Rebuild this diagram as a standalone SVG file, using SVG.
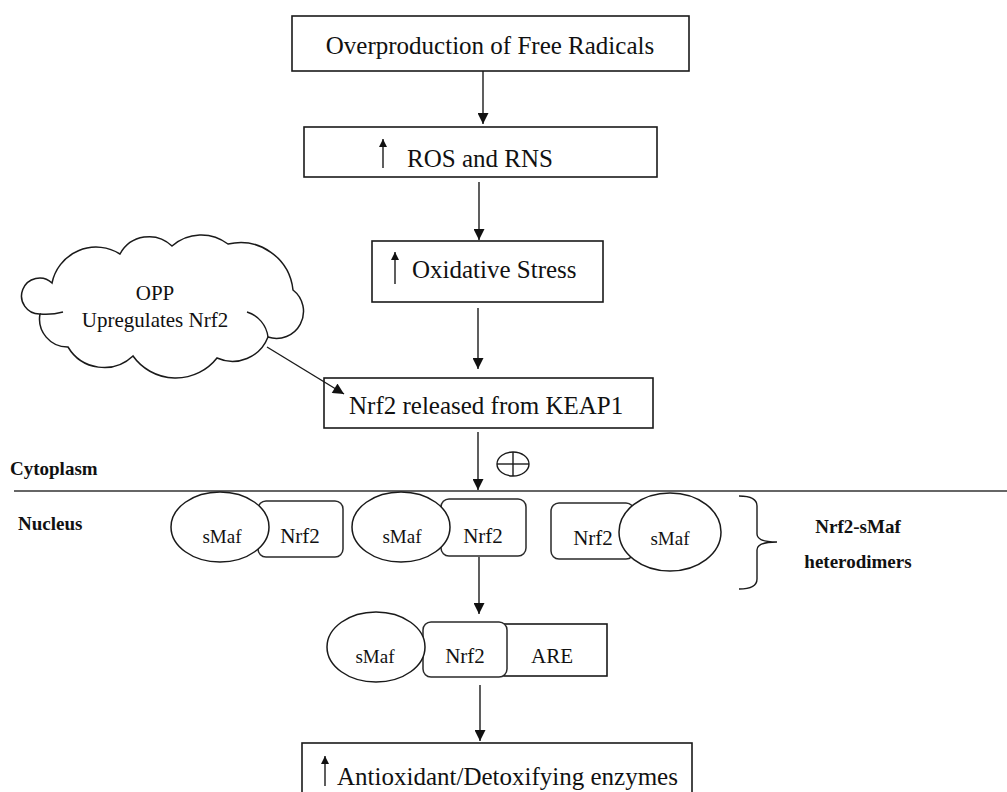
<svg xmlns="http://www.w3.org/2000/svg" width="1007" height="792" viewBox="0 0 1007 792">
<style>
  .box{fill:#fff;stroke:#1a1a1a;stroke-width:1.6}
  .rbox{fill:#fff;stroke:#2a2a2a;stroke-width:1.5}
  .ell{fill:#fff;stroke:#1a1a1a;stroke-width:1.5}
  .t{font-family:"Liberation Serif","Times New Roman",serif;fill:#111}
  .big{font-size:25px}
  .mid{font-size:21px}
  .sm{font-size:19px}
  .lab{font-size:19px;font-weight:bold}
  .conn{stroke:#1a1a1a;stroke-width:1.4;fill:none}
</style>
<defs>
  <marker id="ah" viewBox="0 0 12 12" refX="12" refY="6" markerWidth="12" markerHeight="11" markerUnits="userSpaceOnUse" orient="auto">
    <path d="M0,0 L12,6 L0,12 z" fill="#111"/>
  </marker>
  <marker id="up" viewBox="0 0 10 10" refX="10" refY="5" markerWidth="10" markerHeight="8" markerUnits="userSpaceOnUse" orient="auto">
    <path d="M0,0 L10,5 L0,10 z" fill="#111"/>
  </marker>
</defs>
<rect width="1007" height="792" fill="#fff"/>

<g id="overproduction">
  <rect class="box" x="292" y="16" width="397" height="55"/>
  <text class="t big" x="490" y="54" text-anchor="middle">Overproduction of Free Radicals</text>
</g>

<g id="ros-rns">
  <rect class="box" x="304" y="127" width="353" height="50"/>
  <line class="conn" x1="383" y1="168" x2="383" y2="139" marker-end="url(#up)"/>
  <text class="t big" x="407" y="167">ROS and RNS</text>
</g>

<g id="oxidative-stress">
  <rect class="box" x="372" y="241" width="231" height="61"/>
  <line class="conn" x1="395" y1="284" x2="395" y2="252" marker-end="url(#up)"/>
  <text class="t big" x="412" y="278">Oxidative Stress</text>
</g>

<g id="opp-cloud">
  <path class="ell" d="M40,314 A18,18 0 1 1 52,283 A45,45 0 0 1 120,254 A33,33 0 0 1 172,246 A44,44 0 0 1 228,244 A53,53 0 0 1 293,290 A27,27 0 0 1 268,337 A38,38 0 0 1 217,358 A52.5,52.5 0 0 1 133,356 A42,42 0 0 1 68,347 A28,28 0 0 1 40,314 Z"/>
  <path class="conn" d="M247,312 A30,30 0 0 1 268,337"/>
  <path class="conn" d="M40,314 Q52,315 63,312"/>
  <text class="t mid" x="155" y="300" text-anchor="middle">OPP</text>
  <text class="t mid" x="155" y="327" text-anchor="middle">Upregulates Nrf2</text>
</g>

<g id="nrf2-released">
  <rect class="box" x="324" y="378" width="329" height="50"/>
  <text class="t big" x="349" y="414">Nrf2 released from KEAP1</text>
</g>

<g id="compartments">
  <line x1="14" y1="491" x2="1007" y2="491" stroke="#333" stroke-width="1.6"/>
  <text class="t lab" x="10" y="475">Cytoplasm</text>
  <text class="t lab" x="18" y="530">Nucleus</text>
  <ellipse cx="513" cy="464" rx="16" ry="12" fill="none" stroke="#1a1a1a" stroke-width="1.4"/>
  <line x1="497" y1="464" x2="529" y2="464" stroke="#1a1a1a" stroke-width="1.4"/>
  <line x1="513" y1="452" x2="513" y2="476" stroke="#1a1a1a" stroke-width="1.4"/>
</g>

<g id="dimer1">
  <rect class="rbox" x="258" y="501" width="85" height="56" rx="8"/>
  <ellipse class="ell" cx="220" cy="527" rx="49" ry="35"/>
  <text class="t sm" x="222" y="543" text-anchor="middle">sMaf</text>
  <text class="t mid" x="300" y="543" text-anchor="middle">Nrf2</text>
</g>

<g id="dimer2">
  <rect class="rbox" x="441" y="499" width="85" height="57" rx="8"/>
  <ellipse class="ell" cx="401" cy="527" rx="49" ry="35"/>
  <text class="t sm" x="402" y="543" text-anchor="middle">sMaf</text>
  <text class="t mid" x="483" y="543" text-anchor="middle">Nrf2</text>
</g>

<g id="dimer3">
  <rect class="rbox" x="551" y="503" width="83" height="56" rx="8"/>
  <ellipse class="ell" cx="670" cy="532" rx="51" ry="39"/>
  <text class="t mid" x="593" y="545" text-anchor="middle">Nrf2</text>
  <text class="t sm" x="670" y="545" text-anchor="middle">sMaf</text>
</g>

<g id="heterodimers-label">
  <path class="conn" d="M739,496 Q757,496 757,506 L757,534 Q757,542 777,542 Q757,542 757,550 L757,579 Q757,589 739,589"/>
  <text class="t sm" x="858" y="533" text-anchor="middle" font-weight="bold" font-size="17">Nrf2-sMaf</text>
  <text class="t sm" x="858" y="568" text-anchor="middle" font-weight="bold" font-size="17">heterodimers</text>
</g>

<g id="are-complex">
  <rect class="box" x="504" y="624" width="103" height="52"/>
  <rect class="rbox" x="423" y="622" width="84" height="55" rx="8"/>
  <ellipse class="ell" cx="376" cy="647" rx="49" ry="35"/>
  <text class="t sm" x="375" y="663" text-anchor="middle">sMaf</text>
  <text class="t mid" x="465" y="663" text-anchor="middle">Nrf2</text>
  <text class="t mid" x="552" y="663" text-anchor="middle">ARE</text>
</g>

<g id="antioxidant">
  <rect class="box" x="302" y="743" width="390" height="70"/>
  <line class="conn" x1="325" y1="786" x2="325" y2="756" marker-end="url(#up)"/>
  <text class="t big" x="337" y="785">Antioxidant/Detoxifying enzymes</text>
</g>

<g id="connectors">
  <line class="conn" x1="483" y1="71" x2="483" y2="124" marker-end="url(#ah)"/>
  <line class="conn" x1="479" y1="182" x2="479" y2="240" marker-end="url(#ah)"/>
  <line class="conn" x1="478" y1="308" x2="478" y2="369" marker-end="url(#ah)"/>
  <line class="conn" x1="267" y1="347" x2="344" y2="394" marker-end="url(#ah)"/>
  <line class="conn" x1="478" y1="432" x2="478" y2="490" marker-end="url(#ah)"/>
  <line class="conn" x1="479" y1="557" x2="479" y2="614" marker-end="url(#ah)"/>
  <line class="conn" x1="480" y1="685" x2="480" y2="741" marker-end="url(#ah)"/>
</g>
</svg>
